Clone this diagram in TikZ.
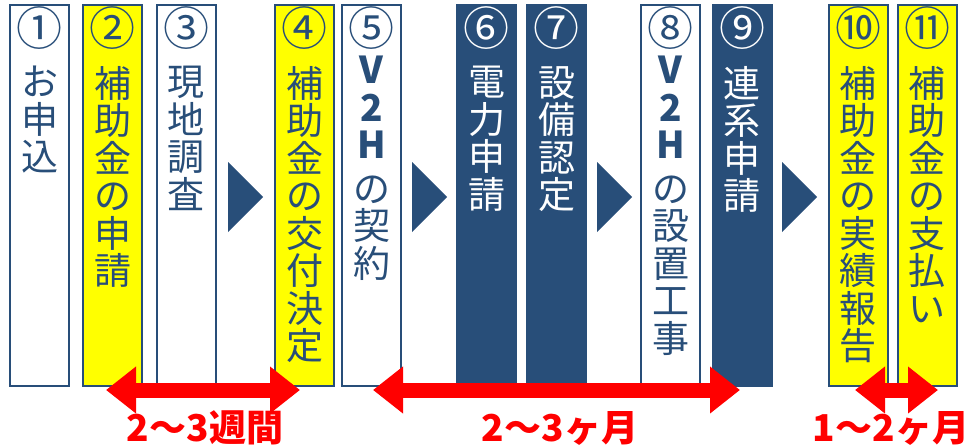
\documentclass[tikz,border=0pt]{standalone}
\usepackage{fontspec}
\setmainfont{Noto Sans CJK JP}
\usetikzlibrary{arrows.meta}
\definecolor{navy}{RGB}{40,78,121}
\definecolor{hiyellow}{RGB}{255,255,0}
\definecolor{flowred}{RGB}{255,0,0}
\tikzset{
  box/.style={draw=navy, line width=2pt, minimum width=59pt, minimum height=381pt, inner sep=0pt, anchor=north},
  whitebox/.style={box, fill=white},
  yellowbox/.style={box, fill=hiyellow},
  darkbox/.style={box, fill=navy},
  num/.style={font=\fontsize{46}{46}\selectfont, inner sep=0pt},
  vtext/.style={font=\fontsize{37}{37.5}\selectfont, align=center, inner sep=0pt, anchor=north},
  span/.style={flowred, line width=15pt, {Triangle[length=30pt,width=45pt]}-{Triangle[length=30pt,width=45pt]}},
  spanlabel/.style={text=flowred, font=\bfseries\fontsize{37}{37}\selectfont, inner sep=0pt},
  chevron/.style={fill=navy}
}
\begin{document}
\begin{tikzpicture}[x=1pt,y=-1pt]
  \useasboundingbox (0,0) rectangle (972,447);
  % step boxes
  \node[whitebox]  (b1)  at (39.5,4) {};
  \node[yellowbox] (b2)  at (112.5,4) {};
  \node[whitebox]  (b3)  at (186,4) {};
  \node[yellowbox] (b4)  at (304.5,4) {};
  \node[whitebox]  (b5)  at (371.5,4) {};
  \node[darkbox]   (b6)  at (486.5,4) {};
  \node[darkbox]   (b7)  at (556.5,4) {};
  \node[whitebox]  (b8)  at (670.5,4) {};
  \node[darkbox]   (b9)  at (742,4) {};
  \node[yellowbox] (b10) at (858,4) {};
  \node[yellowbox] (b11) at (927,4) {};
  % numbers
  \node[num, text=navy]  (n1)  at (39.5,28) {①};
  \node[num, text=navy]  (n2)  at (112.5,28) {②};
  \node[num, text=navy]  (n3)  at (186,28) {③};
  \node[num, text=navy]  (n4)  at (304.5,28) {④};
  \node[num, text=navy]  (n5)  at (371.5,28) {⑤};
  \node[num, text=white] (n6)  at (486.5,28) {⑥};
  \node[num, text=white] (n7)  at (556.5,28) {⑦};
  \node[num, text=navy]  (n8)  at (670.5,28) {⑧};
  \node[num, text=white] (n9)  at (742,28) {⑨};
  \node[num, text=navy]  (n10) at (858,28) {⑩};
  \node[num, text=navy]  (n11) at (927,28) {⑪};
  % vertical labels
  \node[vtext, text=navy]  (t1)  at (39.5,66) {お\\申\\込};
  \node[vtext, text=navy]  (t2)  at (112.5,66) {補\\助\\金\\の\\申\\請};
  \node[vtext, text=navy]  (t3)  at (186,66) {現\\地\\調\\査};
  \node[vtext, text=navy]  (t4)  at (304.5,66) {補\\助\\金\\の\\交\\付\\決\\定};
  \node[vtext, text=navy]  (t5)  at (371.5,56) {\textbf{V}\\\textbf{2}\\\textbf{H}\\[6pt]の\\契\\約};
  \node[vtext, text=white] (t6)  at (486.5,66) {電\\力\\申\\請};
  \node[vtext, text=white] (t7)  at (556.5,66) {設\\備\\認\\定};
  \node[vtext, text=navy]  (t8)  at (670.5,56) {\textbf{V}\\\textbf{2}\\\textbf{H}\\[6pt]の\\設\\置\\工\\事};
  \node[vtext, text=white] (t9)  at (742,66) {連\\系\\申\\請};
  \node[vtext, text=navy]  (t10) at (858,66) {補\\助\\金\\の\\実\\績\\報\\告};
  \node[vtext, text=navy]  (t11) at (927,66) {補\\助\\金\\の\\支\\払\\い};
  % chevrons
  \fill[chevron] (228,162) -- (263,197) -- (228,232) -- cycle;
  \fill[chevron] (412,162) -- (447,197) -- (412,232) -- cycle;
  \fill[chevron] (597,162) -- (632,197) -- (597,232) -- cycle;
  \fill[chevron] (782,162) -- (817,197) -- (782,232) -- cycle;
  % periods
  \coordinate (s1a) at (106,390);
  \coordinate (s1b) at (300,390);
  \coordinate (s2a) at (373,390);
  \coordinate (s2b) at (740,390);
  \coordinate (s3a) at (855,390);
  \coordinate (s3b) at (938,390);
  \draw[span] (s1a) -- (s1b);
  \draw[span] (s2a) -- (s2b);
  \draw[span] (s3a) -- (s3b);
  \node[spanlabel] (l1) at (205,428) {2〜3週間};
  \node[spanlabel] (l2) at (560,428) {2〜3ヶ月};
  \node[spanlabel] (l3) at (891,428) {1〜2ヶ月};
\end{tikzpicture}
\end{document}
